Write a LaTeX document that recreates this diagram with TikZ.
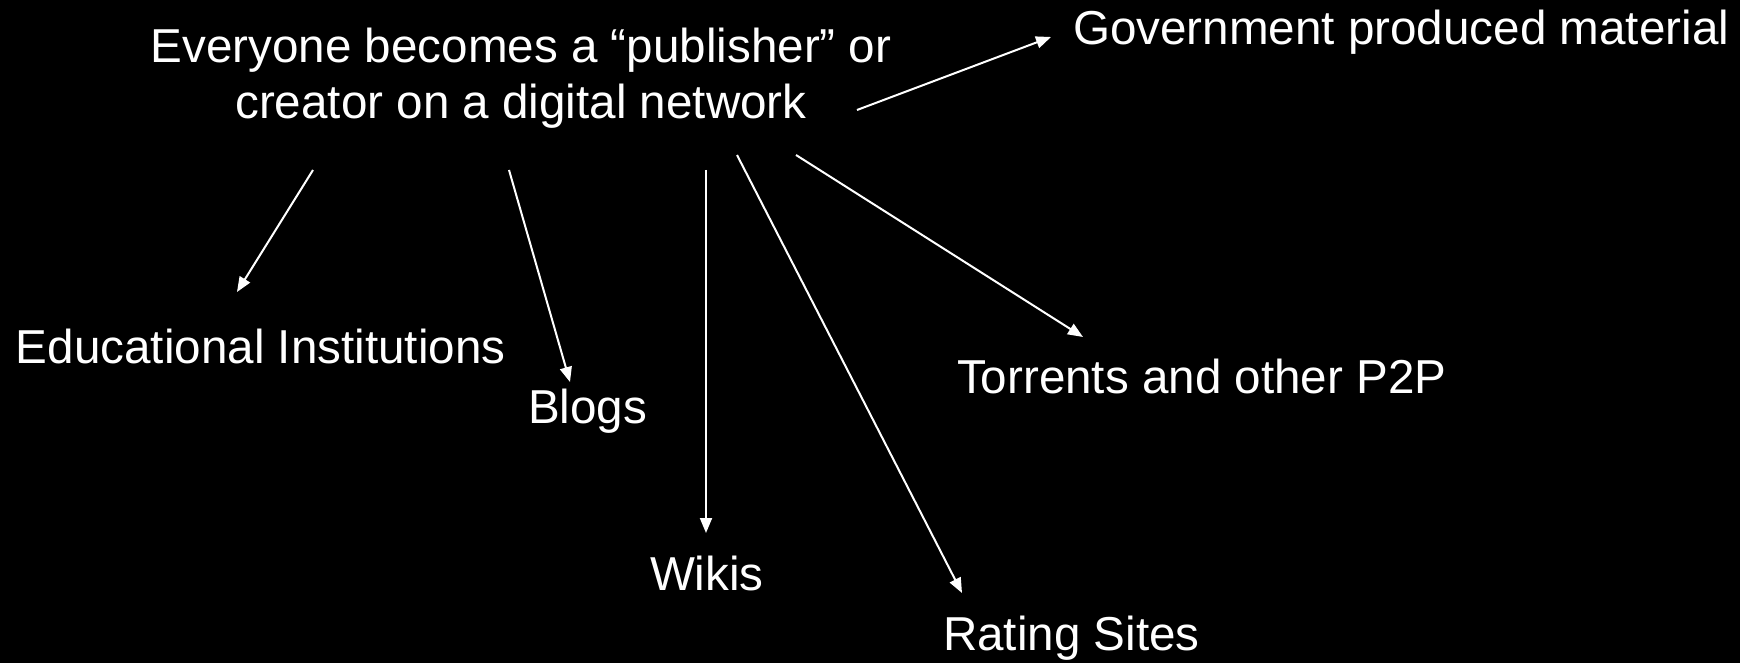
\documentclass[tikz,border=0pt]{standalone}
\usepackage{fontspec}
\setmainfont{Liberation Sans}
\usetikzlibrary{arrows.meta}

\begin{document}
\begin{tikzpicture}[x=0.5pt, y=-0.5pt, white, line width=1pt, >={Triangle[length=7.5pt,width=6pt]},
  label/.style={inner sep=0, font=\fontsize{23.8}{28}\selectfont, text=white}]
\fill[black] (0,0) rectangle (1740,663);
% source and targets
\node[label, align=center, anchor=north] (pub) at (521,27) {Everyone becomes a “publisher” or\\creator on a digital network};
\node[label, anchor=base west] (gov) at (1072,45) {Government produced material};
\node[label, anchor=base west] (edu) at (15,363) {Educational Institutions};
\node[label, anchor=base west] (blogs) at (527,423) {Blogs};
\node[label, anchor=base west] (torr) at (956,393) {Torrents and other P2P};
\node[label, anchor=base west] (wiki) at (649,590) {Wikis};
\node[label, anchor=base west] (rate) at (942,650) {Rating Sites};
% arrow ends
\coordinate (edu from) at (313,170);   \coordinate (edu to) at (237,292);
\coordinate (blogs from) at (509,170); \coordinate (blogs to) at (570,382);
\coordinate (wiki from) at (706,170);  \coordinate (wiki to) at (706,533);
\coordinate (rate from) at (737,155);  \coordinate (rate to) at (962,593);
\coordinate (torr from) at (796,155);  \coordinate (torr to) at (1083,337);
\coordinate (gov from) at (857,110);   \coordinate (gov to) at (1051,37);
\draw[->] (edu from) -- (edu to);
\draw[->] (blogs from) -- (blogs to);
\draw[->] (wiki from) -- (wiki to);
\draw[->] (rate from) -- (rate to);
\draw[->] (torr from) -- (torr to);
\draw[->] (gov from) -- (gov to);
\end{tikzpicture}
\end{document}
